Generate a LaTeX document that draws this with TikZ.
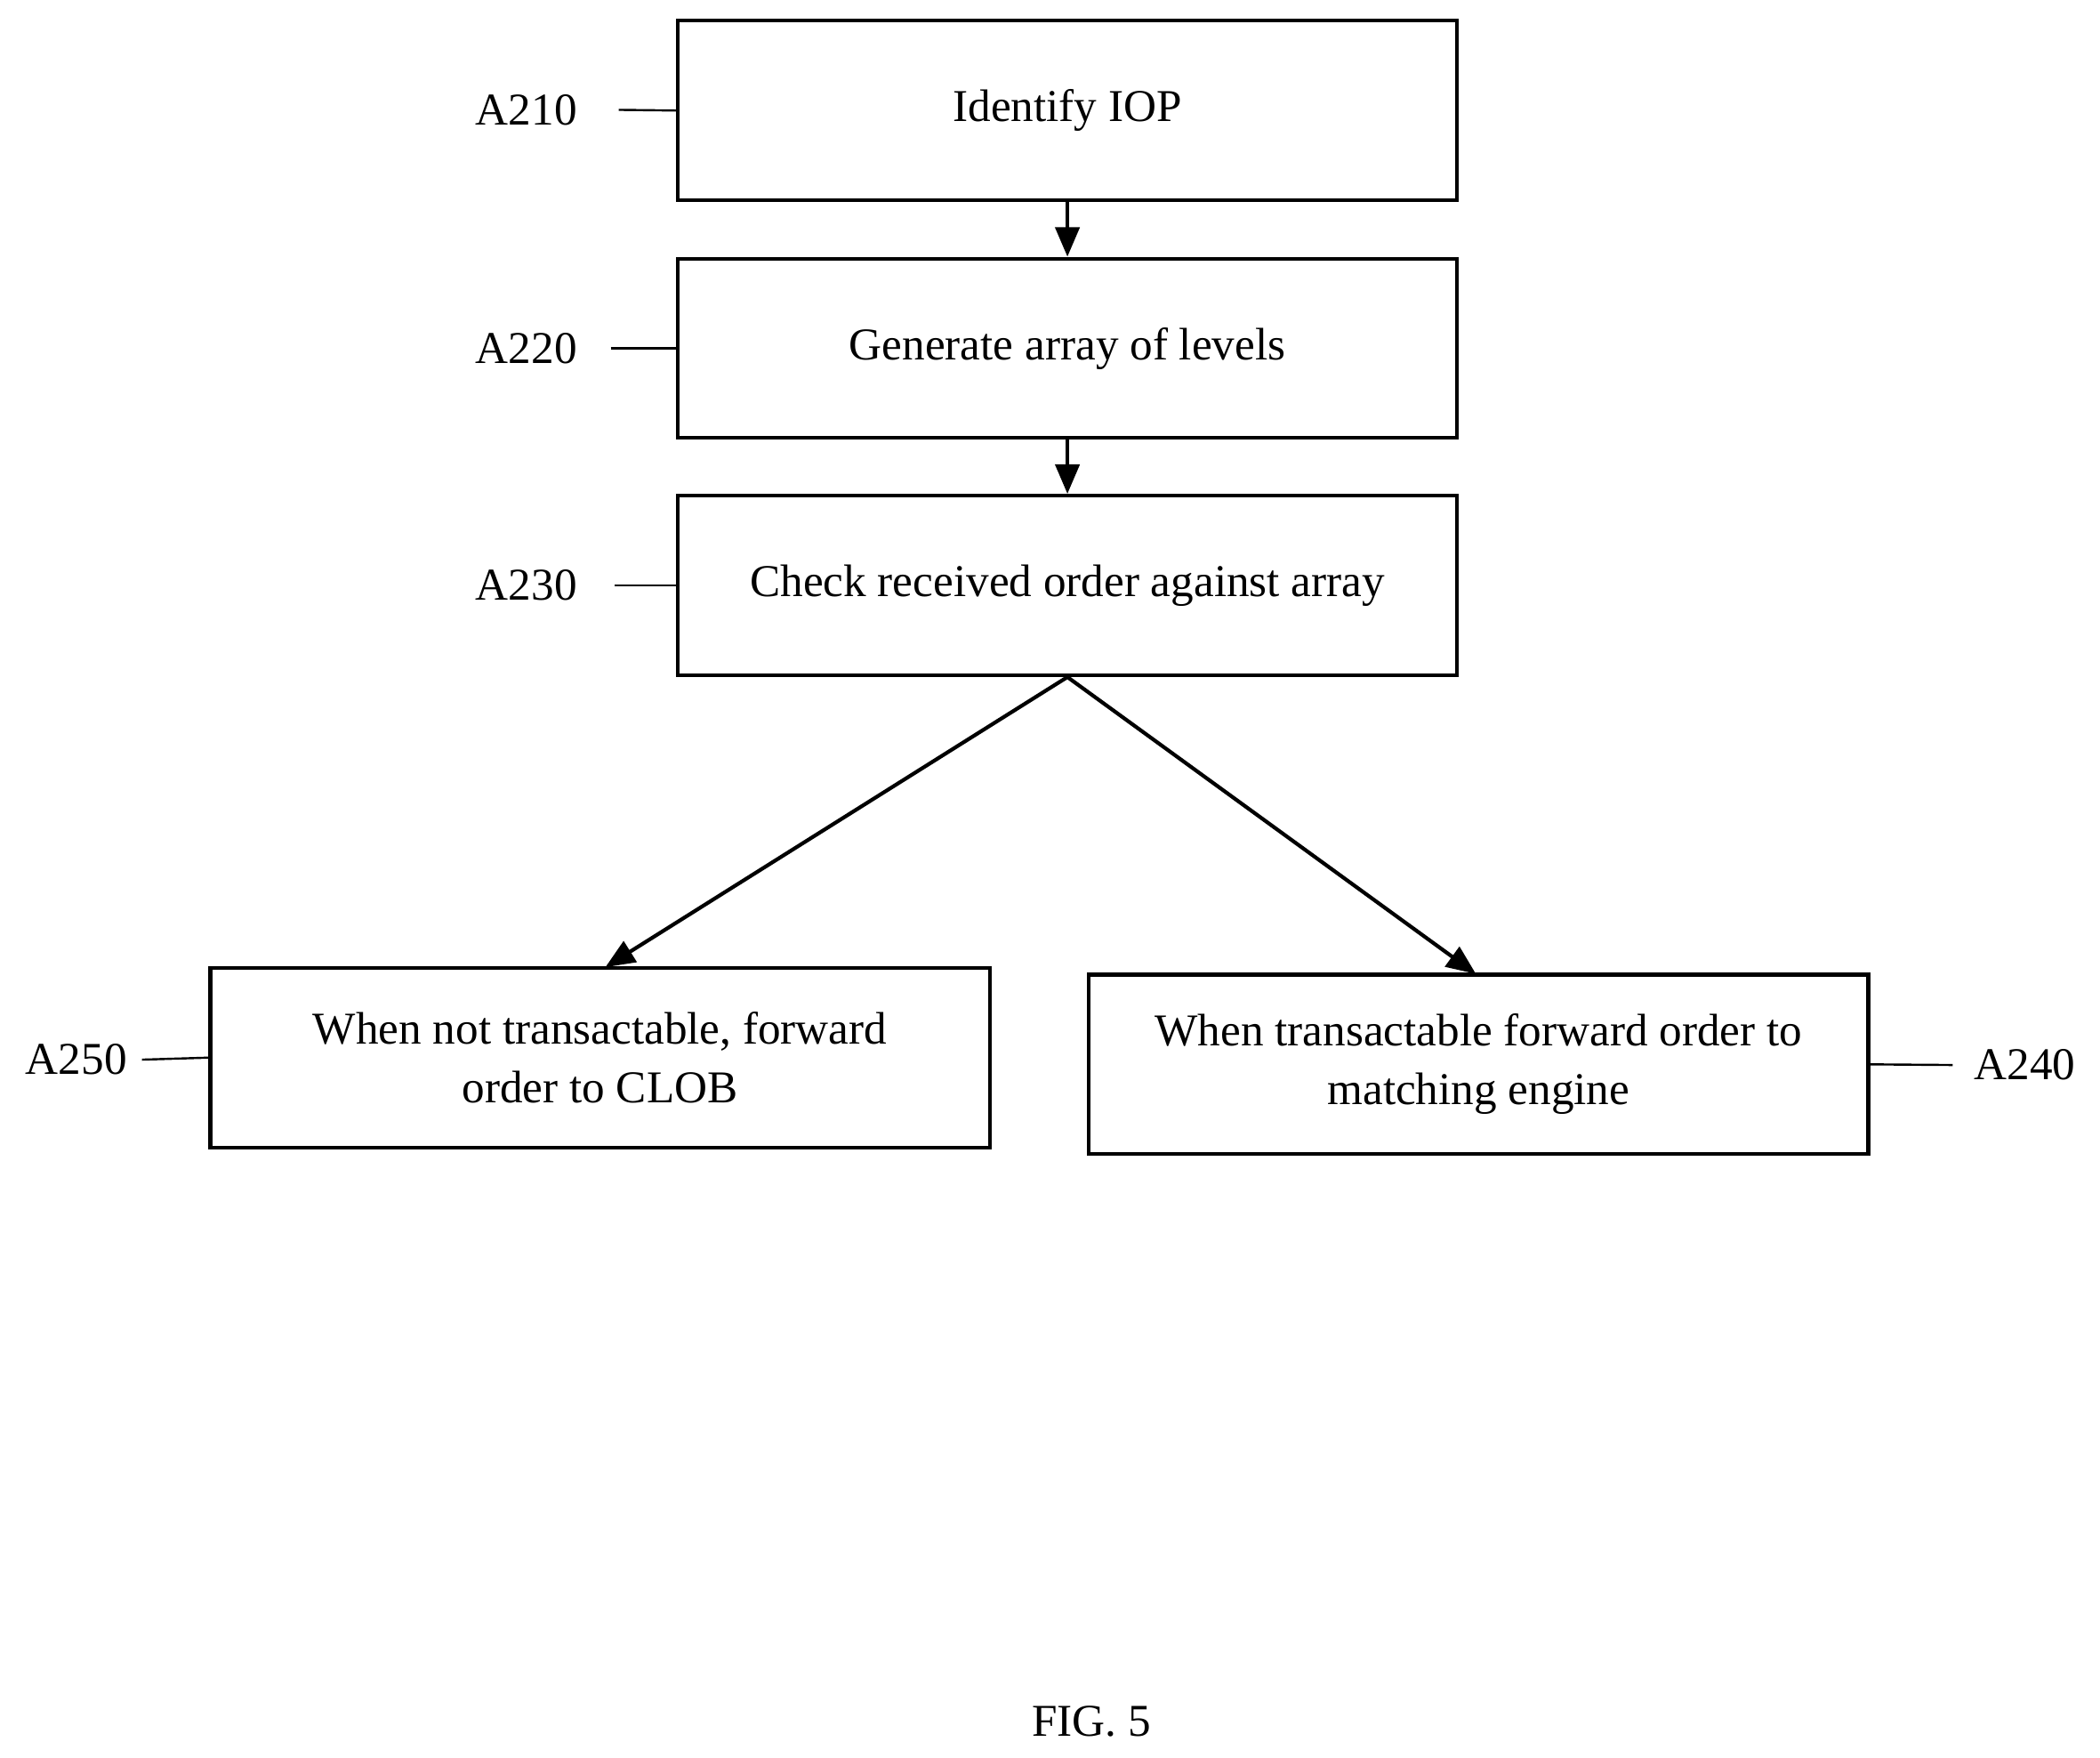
\documentclass[tikz,border=0pt]{standalone}
\usepackage{fontspec}
\setmainfont{Liberation Serif}
\usetikzlibrary{arrows.meta}
\begin{document}
\begin{tikzpicture}[x=0.5pt,y=-0.5pt,
 box/.style={draw,line width=1.4pt,minimum width=291pt,minimum height=67pt,align=center,font=\fontsize{17}{22}\selectfont,inner sep=2pt},
 lab/.style={font=\fontsize{17}{20}\selectfont},
 arr/.style={line width=1.4pt,-{Triangle[length=11pt,width=9pt]}},
 ln/.style={line width=0.8pt}]
\useasboundingbox (0,0) rectangle (1568,1312);
\node[box] (b1) at (797,82.5) {Identify IOP};
\node[box] (b2) at (797,260) {Generate array of levels};
\node[box] (b3) at (797,437) {Check received order against array};
\node[box] (b5) at (448,789.5) {When not transactable, forward\\order to CLOB};
\node[box] (b4) at (1104,794.5) {When transactable forward order to\\matching engine};
\draw[arr] (b1.south) -- (b2.north);
\draw[arr] (b2.south) -- (b3.north);
\draw[arr] (b3.south) -- (452,722);
\draw[arr] (b3.south) -- (1102,727);
\node[lab] (l1) at (393,82) {A210};
\node[lab] (l2) at (393,260) {A220};
\node[lab] (l3) at (393,437) {A230};
\node[lab] (l5) at (57,791) {A250};
\node[lab] (l4) at (1512,795) {A240};
\coordinate (c1) at (462,82); \draw[ln] (c1) -- (b1.west);
\coordinate (c2) at (456,260); \draw[ln] (c2) -- (b2.west);
\coordinate (c3) at (459,437); \draw[ln] (c3) -- (b3.west);
\coordinate (c5) at (106,791); \draw[ln] (c5) -- (b5.west);
\coordinate (c4) at (1458,795); \draw[ln] (b4.east) -- (c4);
\node[lab] (fig) at (815,1285) {FIG. 5};
\end{tikzpicture}
\end{document}
